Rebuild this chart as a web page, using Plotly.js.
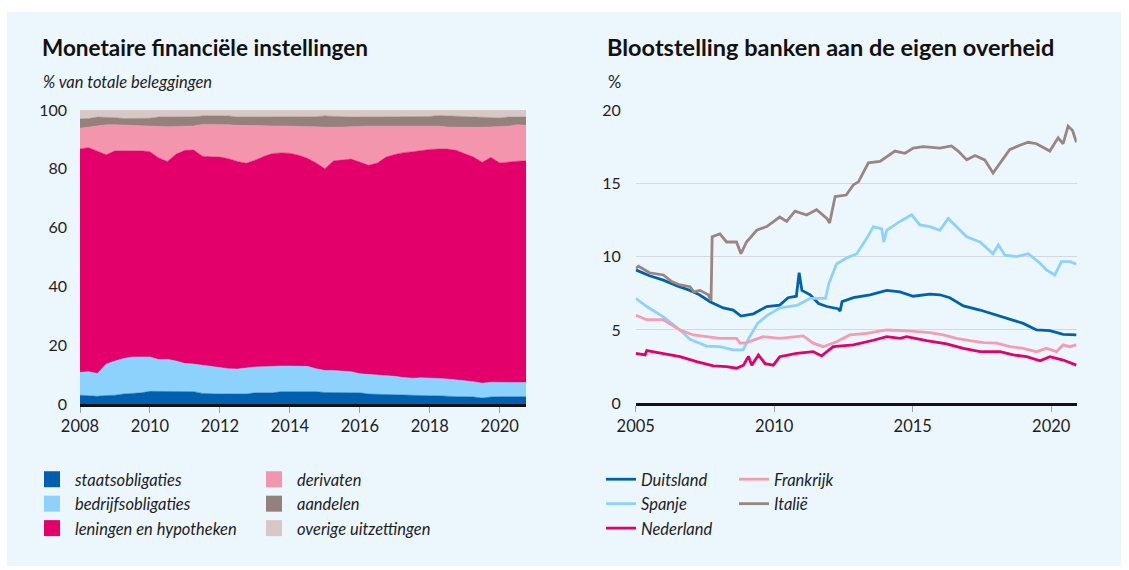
<!DOCTYPE html>
<html>
<head>
<meta charset="utf-8">
<script src="https://cdn.plot.ly/plotly-3.0.1.min.js"></script>
<style>
  body { margin: 0; background: #ffffff; }
  #chart { position: absolute; left: 7px; top: 12px; width: 1114px; height: 554px; }
</style>
</head>
<body>
<div id="chart"></div>
<script>
// left panel: quarterly shares (% of total investments)
const quarters = [
  2008, 2008.25, 2008.5, 2008.75, 2009, 2009.25, 2009.5, 2009.75,
  2010, 2010.25, 2010.5, 2010.75, 2011, 2011.25, 2011.5, 2011.75,
  2012, 2012.25, 2012.5, 2012.75, 2013, 2013.25, 2013.5, 2013.75,
  2014, 2014.25, 2014.5, 2014.75, 2015, 2015.25, 2015.5, 2015.75,
  2016, 2016.25, 2016.5, 2016.75, 2017, 2017.25, 2017.5, 2017.75,
  2018, 2018.25, 2018.5, 2018.75, 2019, 2019.25, 2019.5, 2019.75,
  2020, 2020.25, 2020.5, 2020.75
];
const staatsobligaties = [3.0, 2.9, 2.6, 2.9, 3.0, 3.4, 3.6, 3.8, 4.3, 4.3, 4.3, 4.3, 4.3, 4.2, 3.6, 3.4, 3.4, 3.4, 3.4, 3.4, 3.8, 3.8, 3.8, 4.2, 4.2, 4.3, 4.4, 4.2, 3.9, 3.9, 3.9, 3.9, 3.8, 3.4, 3.3, 3.3, 3.0, 2.9, 2.8, 2.8, 2.8, 2.8, 2.6, 2.5, 2.5, 2.4, 2.0, 2.4, 2.5, 2.5, 2.5, 2.5];
const bedrijfsobligaties = [7.8, 8.1, 7.8, 10.7, 11.6, 12.1, 12.4, 12.2, 11.7, 10.8, 10.9, 10.3, 9.5, 9.4, 9.6, 9.4, 8.9, 8.6, 8.5, 8.9, 8.8, 8.9, 9.1, 8.7, 8.7, 8.6, 8.4, 7.8, 7.5, 7.5, 7.4, 7.1, 6.5, 6.7, 6.5, 6.2, 6.4, 6.1, 6.0, 6.1, 6.1, 5.9, 5.9, 5.8, 5.4, 5.2, 5.1, 5.0, 4.8, 4.8, 4.8, 4.8];
const leningen = [76.0, 76.2, 75.6, 71.2, 71.5, 70.7, 70.1, 70.1, 69.8, 68.6, 67.3, 70.4, 72.5, 72.8, 71.1, 71.3, 71.7, 71.4, 70.6, 69.6, 70.3, 71.5, 72.3, 72.5, 72.4, 71.7, 70.8, 70.0, 68.6, 71.3, 71.7, 72.3, 72.0, 71.1, 72.2, 74.5, 75.5, 76.5, 77.0, 77.4, 77.7, 78.0, 78.2, 78.0, 77.3, 76.4, 75.1, 76.5, 74.7, 75.1, 75.3, 75.4];
const derivaten = [7.0, 7.0, 8.4, 10.2, 8.9, 8.7, 8.6, 8.4, 8.6, 10.6, 11.8, 9.4, 8.2, 8.2, 10.8, 11.0, 11.0, 11.6, 12.3, 12.8, 11.8, 10.5, 9.4, 9.2, 9.2, 9.8, 10.8, 12.4, 14.1, 11.4, 11.2, 10.9, 12.1, 13.3, 12.5, 10.5, 9.6, 9.0, 8.7, 8.2, 7.9, 7.8, 7.5, 7.8, 8.9, 10.1, 11.9, 10.3, 12.2, 12.1, 12.4, 12.1];
const aandelen = [3.2, 2.9, 3.2, 2.6, 2.4, 2.2, 2.4, 2.6, 2.8, 3.3, 3.3, 3.2, 3.1, 3.1, 2.9, 2.9, 3.0, 3.0, 2.8, 2.9, 2.9, 2.9, 3.0, 3.0, 3.1, 3.2, 3.3, 3.3, 3.9, 3.7, 3.6, 3.4, 3.2, 3.1, 3.1, 3.1, 3.1, 3.1, 3.1, 3.1, 3.3, 3.6, 3.8, 3.7, 3.7, 3.5, 3.3, 3.1, 3.1, 3.1, 2.6, 2.8];
const overige = [3.0, 2.9, 2.4, 2.4, 2.6, 2.9, 2.9, 2.9, 2.8, 2.4, 2.4, 2.4, 2.4, 2.3, 2.0, 2.0, 2.0, 2.0, 2.4, 2.4, 2.4, 2.4, 2.4, 2.4, 2.4, 2.4, 2.3, 2.3, 2.0, 2.2, 2.2, 2.4, 2.4, 2.4, 2.4, 2.4, 2.4, 2.4, 2.4, 2.4, 2.2, 1.9, 2.0, 2.2, 2.2, 2.4, 2.6, 2.7, 2.7, 2.4, 2.4, 2.4];

// right panel: exposure to own government (%)
const duitslandX = [2005.0, 2005.5, 2006.0, 2006.5, 2006.96, 2007.3, 2007.68, 2008.16, 2008.52, 2008.8, 2009.25, 2009.73, 2010.2, 2010.5, 2010.8, 2010.9, 2011.0, 2011.3, 2011.6, 2011.9, 2012.3, 2012.38, 2012.45, 2012.86, 2013.46, 2014.06, 2014.54, 2015.02, 2015.62, 2015.98, 2016.34, 2016.83, 2017.43, 2017.9, 2018.39, 2018.99, 2019.47, 2019.95, 2020.43, 2020.91];
const duitslandY = [9.1, 8.7, 8.4, 8.0, 7.7, 7.4, 6.93, 6.5, 6.36, 5.95, 6.1, 6.6, 6.7, 7.2, 7.3, 8.9, 7.7, 7.4, 6.8, 6.6, 6.45, 6.3, 6.93, 7.2, 7.4, 7.7, 7.6, 7.3, 7.45, 7.4, 7.2, 6.64, 6.36, 6.1, 5.8, 5.45, 5.0, 4.95, 4.7, 4.66];
const spanjeX = [2005.0, 2005.4, 2006.0, 2006.6, 2006.96, 2007.56, 2008.04, 2008.52, 2008.88, 2009.08, 2009.4, 2009.75, 2010.2, 2010.85, 2011.3, 2011.85, 2011.98, 2012.25, 2012.61, 2012.98, 2013.34, 2013.58, 2013.88, 2013.96, 2014.06, 2014.54, 2014.96, 2015.26, 2015.62, 2015.98, 2016.28, 2016.58, 2016.95, 2017.43, 2017.9, 2018.09, 2018.33, 2018.75, 2019.17, 2019.6, 2019.83, 2020.13, 2020.37, 2020.67, 2020.91];
const spanjeY = [7.16, 6.6, 5.9, 5.0, 4.36, 3.9, 3.86, 3.64, 3.64, 4.43, 5.45, 6.0, 6.5, 6.7, 7.16, 7.16, 8.2, 9.5, 9.9, 10.2, 11.25, 12.05, 11.9, 11.0, 11.8, 12.4, 12.85, 12.16, 12.05, 11.8, 12.6, 12.05, 11.36, 11.0, 10.2, 10.8, 10.1, 10.0, 10.2, 9.55, 9.1, 8.75, 9.66, 9.66, 9.5];
const nederlandX = [2005.0, 2005.34, 2005.4, 2006.0, 2006.6, 2007.2, 2007.8, 2008.28, 2008.64, 2008.89, 2009.07, 2009.19, 2009.43, 2009.67, 2009.97, 2010.2, 2010.81, 2011.41, 2011.71, 2012.13, 2012.86, 2013.58, 2014.06, 2014.54, 2014.78, 2015.5, 2016.22, 2016.83, 2017.43, 2018.15, 2018.63, 2019.11, 2019.6, 2019.95, 2020.43, 2020.91];
const nederlandY = [3.4, 3.3, 3.6, 3.4, 3.18, 2.84, 2.55, 2.5, 2.39, 2.6, 3.2, 2.6, 3.3, 2.7, 2.6, 3.18, 3.4, 3.52, 3.23, 3.86, 3.98, 4.3, 4.55, 4.43, 4.55, 4.27, 4.05, 3.75, 3.52, 3.52, 3.3, 3.18, 2.9, 3.18, 2.95, 2.6];
const frankrijkX = [2005.0, 2005.4, 2006.0, 2006.6, 2007.08, 2007.56, 2008.04, 2008.64, 2008.77, 2009.0, 2009.6, 2010.2, 2010.69, 2011.05, 2011.41, 2011.77, 2012.25, 2012.73, 2013.34, 2014.06, 2014.66, 2015.14, 2015.62, 2016.1, 2016.58, 2017.06, 2017.55, 2018.03, 2018.51, 2018.99, 2019.47, 2019.83, 2020.19, 2020.43, 2020.67, 2020.91];
const frankrijkY = [6.0, 5.7, 5.7, 5.0, 4.66, 4.55, 4.43, 4.43, 4.1, 4.14, 4.55, 4.43, 4.55, 4.6, 4.1, 3.86, 4.2, 4.66, 4.77, 5.0, 4.95, 4.9, 4.82, 4.66, 4.43, 4.27, 4.14, 4.1, 3.86, 3.75, 3.52, 3.75, 3.52, 3.98, 3.86, 3.98];
const italieX = [2005.0, 2005.1, 2005.5, 2006.0, 2006.3, 2006.6, 2006.96, 2007.1, 2007.32, 2007.62, 2007.72, 2007.76, 2008.04, 2008.28, 2008.64, 2008.8, 2009.0, 2009.37, 2009.73, 2010.2, 2010.45, 2010.75, 2011.17, 2011.53, 2011.9, 2012.0, 2012.2, 2012.6, 2012.86, 2013.04, 2013.4, 2013.82, 2014.36, 2014.72, 2015.02, 2015.38, 2015.98, 2016.4, 2016.64, 2016.95, 2017.25, 2017.6, 2017.9, 2018.2, 2018.5, 2018.87, 2019.17, 2019.47, 2019.95, 2020.25, 2020.43, 2020.61, 2020.77, 2020.91];
const italieY = [9.2, 9.35, 8.9, 8.75, 8.3, 8.07, 7.95, 7.6, 7.7, 7.4, 7.0, 11.36, 11.55, 11.0, 11.0, 10.2, 11.0, 11.8, 12.05, 12.7, 12.4, 13.1, 12.84, 13.2, 12.6, 12.3, 14.1, 14.2, 14.9, 15.1, 16.4, 16.5, 17.2, 17.05, 17.4, 17.5, 17.4, 17.55, 17.2, 16.6, 16.9, 16.6, 15.7, 16.5, 17.3, 17.6, 17.8, 17.7, 17.2, 18.1, 17.7, 18.9, 18.6, 17.8];

const FONT = 'Lato, "Noto Sans", sans-serif';
const TXT = '#1e1e1e';
const PANEL = '#ecf6fd';

const areaSeries = [
  { name: 'staatsobligaties', y: staatsobligaties, color: '#0060ae', legend: 'legend' },
  { name: 'bedrijfsobligaties', y: bedrijfsobligaties, color: '#8dd2fc', legend: 'legend' },
  { name: 'leningen en hypotheken', y: leningen, color: '#e4006a', legend: 'legend' },
  { name: 'derivaten', y: derivaten, color: '#f396ad', legend: 'legend2' },
  { name: 'aandelen', y: aandelen, color: '#95817b', legend: 'legend2' },
  { name: 'overige uitzettingen', y: overige, color: '#d7c8c6', legend: 'legend2' }
];

const lineSeries = [
  { name: 'Duitsland', x: duitslandX, y: duitslandY, color: '#0062ad', legend: 'legend3' },
  { name: 'Spanje', x: spanjeX, y: spanjeY, color: '#8dd2fc', legend: 'legend3' },
  { name: 'Nederland', x: nederlandX, y: nederlandY, color: '#e4006a', legend: 'legend3' },
  { name: 'Frankrijk', x: frankrijkX, y: frankrijkY, color: '#f49db2', legend: 'legend4' },
  { name: 'Italië', x: italieX, y: italieY, color: '#9a8580', legend: 'legend4' }
];

const traces = [];
areaSeries.forEach(s => {
  traces.push({
    x: quarters, y: s.y, type: 'scatter', mode: 'lines',
    stackgroup: 'one', fill: 'tonexty', fillcolor: s.color,
    line: { color: s.color, width: 0.5 },
    name: s.name, showlegend: false, hoverinfo: 'skip',
    xaxis: 'x', yaxis: 'y'
  });
});
// legend squares for the stacked areas
areaSeries.forEach(s => {
  traces.push({
    x: [null], y: [null], type: 'scatter', mode: 'markers',
    marker: { symbol: 'square', size: 16, color: s.color },
    name: s.name, legend: s.legend, showlegend: true,
    xaxis: 'x', yaxis: 'y'
  });
});
lineSeries.forEach(s => {
  traces.push({
    x: s.x, y: s.y, type: 'scatter', mode: 'lines',
    line: { color: s.color, width: 2.8 },
    name: s.name, legend: s.legend, showlegend: true,
    xaxis: 'x2', yaxis: 'y2'
  });
});

const W = 1114, H = 554;
const px = v => v / W;
const py = v => (H - v) / H;

const legendBase = {
  bgcolor: 'rgba(0,0,0,0)', xanchor: 'left', yanchor: 'top',
  traceorder: 'normal',
  font: { family: FONT, size: 16.5, color: TXT, style: 'italic' },
  tracegroupgap: 0
};

const layout = {
  width: W, height: H,
  paper_bgcolor: PANEL, plot_bgcolor: PANEL,
  margin: { l: 0, r: 0, t: 0, b: 0 },
  font: { family: FONT, color: TXT },
  xaxis: {
    domain: [px(73), px(519)], range: [2008, 2020.75],
    tickvals: [2008, 2010, 2012, 2014, 2016, 2018, 2020],
    ticks: 'outside', ticklen: 6, tickcolor: '#9aa3ab',
    showgrid: false, zeroline: false,
    showline: true, linecolor: '#111111', linewidth: 2.5,
    tickfont: { family: FONT, size: 16.5, color: TXT }, fixedrange: true
  },
  yaxis: {
    domain: [py(392), py(98)], range: [0, 100],
    tickvals: [0, 20, 40, 60, 80, 100],
    showgrid: false, zeroline: false, ticks: '', ticklabelstandoff: 12,
    tickfont: { family: FONT, size: 16, color: TXT }, fixedrange: true
  },
  xaxis2: {
    domain: [px(628.7), px(1069.7)], range: [2005, 2020.92],
    tickvals: [2005, 2010, 2015, 2020],
    ticks: 'outside', ticklen: 6, tickcolor: '#9aa3ab',
    showgrid: false, zeroline: false,
    showline: true, linecolor: '#111111', linewidth: 2.5,
    tickfont: { family: FONT, size: 16.5, color: TXT }, fixedrange: true,
    anchor: 'y2'
  },
  yaxis2: {
    domain: [py(391.3), py(98)], range: [0, 20],
    tickvals: [0, 5, 10, 15, 20],
    showgrid: true, gridcolor: '#d3d9df', gridwidth: 1,
    zeroline: false, ticks: '', ticklabelstandoff: 14,
    tickfont: { family: FONT, size: 16, color: TXT }, fixedrange: true,
    anchor: 'x2'
  },
  legend: Object.assign({}, legendBase, { x: px(22), y: py(450), itemwidth: 36 }),
  legend2: Object.assign({}, legendBase, { x: px(244), y: py(450), itemwidth: 36 }),
  legend3: Object.assign({}, legendBase, { x: px(594), y: py(450) }),
  legend4: Object.assign({}, legendBase, { x: px(727), y: py(450) }),
  annotations: [
    { text: 'Monetaire financiële instellingen', x: px(33), y: py(35), xref: 'paper', yref: 'paper',
      xanchor: 'left', yanchor: 'middle', showarrow: false,
      font: { family: FONT, size: 22.5, color: '#111111', weight: 700 } },
    { text: '% van totale beleggingen', x: px(34), y: py(70), xref: 'paper', yref: 'paper',
      xanchor: 'left', yanchor: 'middle', showarrow: false,
      font: { family: FONT, size: 16.5, color: TXT, style: 'italic' } },
    { text: 'Blootstelling banken aan de eigen overheid', x: px(598), y: py(35), xref: 'paper', yref: 'paper',
      xanchor: 'left', yanchor: 'middle', showarrow: false,
      font: { family: FONT, size: 23.5, color: '#111111', weight: 700 } },
    { text: '%', x: px(599), y: py(70), xref: 'paper', yref: 'paper',
      xanchor: 'left', yanchor: 'middle', showarrow: false,
      font: { family: FONT, size: 16.5, color: TXT } }
  ]
};

Plotly.newPlot('chart', traces, layout, { displayModeBar: false, staticPlot: true });
</script>
</body>
</html>
